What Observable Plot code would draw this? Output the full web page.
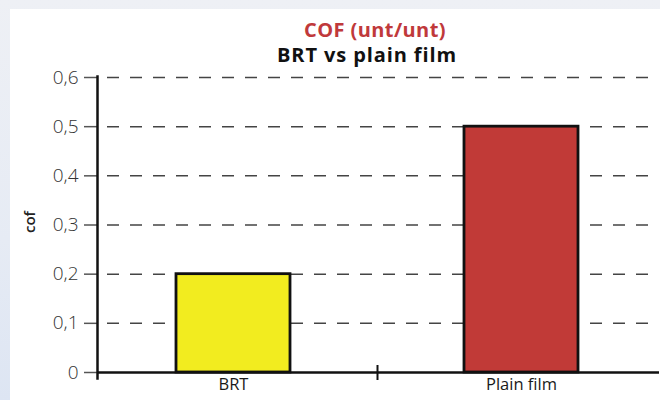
<!DOCTYPE html>
<html>
<head>
<meta charset="utf-8">
<script src="https://cdn.jsdelivr.net/npm/d3@7"></script>
<script src="https://cdn.jsdelivr.net/npm/@observablehq/plot@0.6"></script>
<style>
  html, body { margin: 0; padding: 0; }
  body { width: 660px; height: 400px; overflow: hidden; font-family: "Open Sans", Lato, sans-serif; }
  #wrap { position: relative; width: 660px; height: 400px;
    background: linear-gradient(180deg, #eef0f5 0%, #e6ebf4 60%, #dde5f3 100%); }
  #panel { position: absolute; left: 10px; top: 9px; right: 0; bottom: 0; background: #fff; }
  #chart { position: absolute; left: 0; top: 0; }
  .t1 { position: absolute; left: 0; width: 750px; top: 16px; text-align: center; font-weight: 700; font-size: 20px; line-height: 28px; letter-spacing: 0.4px; color: #c0393b; }
  .t2 { position: absolute; left: 0; width: 734px; top: 41px; text-align: center; font-weight: 700; font-size: 20px; line-height: 28px; letter-spacing: 0.9px; color: #111; }
  .ylab { position: absolute; left: 29px; top: 222px; transform: translate(-50%, -50%) rotate(-90deg); font-weight: 600; font-size: 15px; color: #222; }
</style>
</head>
<body>
<div id="wrap">
  <div id="panel"></div>
  <div id="chart"></div>
  <div class="t1">COF (unt/unt)</div>
  <div class="t2">BRT vs plain film</div>
  <div class="ylab">cof</div>
</div>
<script>
const categories = ["BRT", "Plain film"];
const values = [0.2, 0.5];
const barColors = ["#f2ec1f", "#c13a37"];
const yTicks = [0, 0.1, 0.2, 0.3, 0.4, 0.5, 0.6];
const yTickLabels = ["0", "0,1", "0,2", "0,3", "0,4", "0,5", "0,6"];

const data = categories.map((c, i) => ({category: c, value: values[i], color: barColors[i]}));

const W = 660, H = 400;
const xRange = [89, 665];
const step = (xRange[1] - xRange[0]) / categories.length;

const chart = Plot.plot({
  width: W,
  height: H,
  marginLeft: 97,
  marginRight: 1,
  marginTop: 77,
  marginBottom: 28,
  style: { background: "transparent", fontFamily: "'Open Sans', Lato, sans-serif", overflow: "visible" },
  x: { domain: categories, range: xRange, padding: 0 },
  y: { domain: [0, 0.6], range: [372, 77] },
  marks: [
    Plot.gridY(yTicks.filter(d => d > 0), { stroke: "#444", strokeOpacity: 1, strokeWidth: 1.5, strokeDasharray: "12,11", strokeDashoffset: 13 }),
    Plot.barY(data, { x: "category", y: "value", fill: "color", stroke: "#111", strokeWidth: 2.8, insetLeft: 87, insetRight: 87 }),
    Plot.axisY({ ticks: yTicks, tickFormat: (d) => yTickLabels[yTicks.indexOf(d)], tickSize: 13, tickPadding: 6, fontSize: 19, fontWeight: 300, stroke: "#555", strokeWidth: 1.5, fill: "#333", label: null }),
    Plot.axisX({ tickSize: 0, tickPadding: 6, fontSize: 16.5, fill: "#1a1a1a", label: null }),
    Plot.ruleY([0], { stroke: "#111", strokeWidth: 2.5 }),
    Plot.ruleX(categories.slice(1), { y1: 0, y2: 0, insetTop: -7, insetBottom: -8, dx: -step / 2, stroke: "#111", strokeWidth: 2 }),
    Plot.frame({ anchor: "left", stroke: "#111", strokeWidth: 2.5, insetTop: -1, insetBottom: -6 })
  ]
});
document.getElementById("chart").appendChild(chart);
</script>
</body>
</html>
